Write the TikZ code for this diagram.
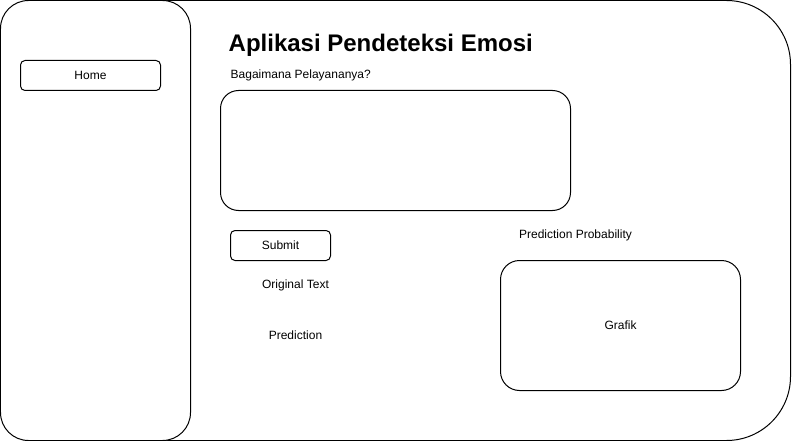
\documentclass[tikz,border=0pt]{standalone}
\usepackage{fontspec}
\setmainfont{Liberation Sans}
\usetikzlibrary{positioning}

\tikzset{
  panel/.style={draw, line width=1pt, fill=white, inner sep=0pt},
  btn/.style={panel, rounded corners=4.5pt, minimum width=140pt, minimum height=30pt, font=\fontsize{12}{14}\selectfont},
  lbl/.style={inner sep=0pt, font=\fontsize{12}{14}\selectfont},
}

\begin{document}
\begin{tikzpicture}[x=1pt, y=-1pt]
\useasboundingbox (-0.5,-0.5) rectangle (791.5,440.5);

% frame and side bar
\node (frame) at (395,220) [panel, rounded corners=64pt, minimum width=790pt, minimum height=440pt] {};
\node (side) at (95,220) [panel, rounded corners=28pt, minimum width=190pt, minimum height=440pt] {};
\node (home) at (90,75) [btn] {Home};

% form
\node (title) at (228,45) [anchor=west, inner sep=0pt, font=\fontsize{24}{28}\selectfont\bfseries] {Aplikasi Pendeteksi Emosi};
\node (ask) at (230,75) [lbl, anchor=west] {Bagaimana Pelayananya?};
\node (input) at (395,150) [panel, rounded corners=18pt, minimum width=350pt, minimum height=120pt] {};
\node (submit) at (280,245) [btn, minimum width=100pt] {Submit};
\node (orig) at (295,285) [lbl] {Original Text};
\node (pred) at (295,335) [lbl] {Prediction};

% chart
\node (prob) at (575,235) [lbl] {Prediction Probability};
\node (grafik) at (620,325) [panel, rounded corners=19pt, minimum width=240pt, minimum height=130pt, font=\fontsize{12}{14}\selectfont] {Grafik};
\end{tikzpicture}
\end{document}
